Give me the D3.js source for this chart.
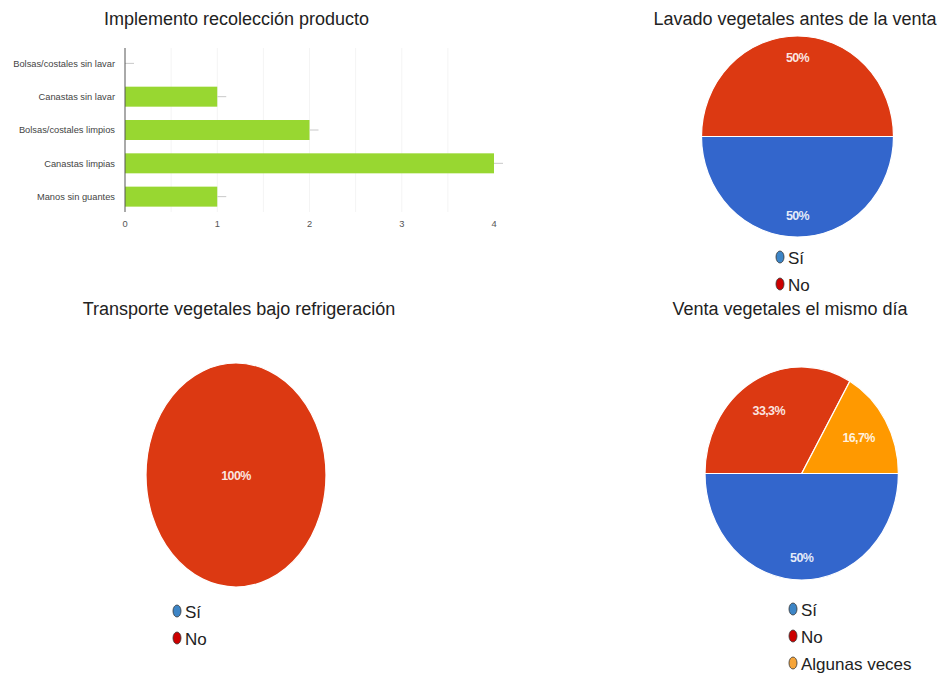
<!DOCTYPE html>
<html>
<head>
<meta charset="utf-8">
<script src="https://cdn.jsdelivr.net/npm/d3@7"></script>
<style>
  body { margin: 0; background: #fff; }
  text { font-family: "Liberation Sans", Arial, sans-serif; }
</style>
</head>
<body>
<div id="chart"></div>
<script>
// Bar chart data
const barCategories = ["Bolsas/costales sin lavar", "Canastas sin lavar", "Bolsas/costales limpios", "Canastas limpias", "Manos sin guantes"];
const barValues = [0, 1, 2, 4, 1];
const barTicks = [0, 1, 2, 3, 4];

// Pie chart data
const lavadoLabels = ["Sí", "No"];
const lavadoValues = [50, 50];
const transporteLabels = ["Sí", "No"];
const transporteValues = [0, 100];
const ventaLabels = ["Sí", "No", "Algunas veces"];
const ventaValues = [50, 33.3, 16.7];

const pieColors = ["#3366cc", "#dc3912", "#ff9900"];
const markerColors = ["#3d85c6", "#cc0000", "#f6a53a"];

const width = 943, height = 673;
const svg = d3.select("#chart").append("svg")
    .attr("width", width)
    .attr("height", height);

// ---- Bar chart ----
const x = d3.scaleLinear().domain([0, 4]).range([125, 494]);
const y = d3.scaleBand().domain(barCategories).range([46.7, 213.3]).paddingInner(0.4).paddingOuter(0.2);

svg.append("text")
    .attr("x", 236.5).attr("y", 25)
    .attr("text-anchor", "middle")
    .attr("font-size", 18).attr("fill", "#222")
    .text("Implemento recolección producto");

// faint gridlines every half unit
svg.append("g").selectAll("line")
    .data(d3.range(0.5, 4, 0.5))
    .enter().append("line")
    .attr("x1", d => x(d)).attr("x2", d => x(d))
    .attr("y1", 48).attr("y2", 212)
    .attr("stroke", "#f4f4f4").attr("stroke-width", 1);

svg.append("g").selectAll("rect")
    .data(barValues)
    .enter().append("rect")
    .attr("x", x(0))
    .attr("y", (d, i) => y(barCategories[i]))
    .attr("width", d => x(d) - x(0))
    .attr("height", y.bandwidth())
    .attr("fill", "#98d731");

// small whiskers at bar ends
svg.append("g").selectAll("line")
    .data(barValues)
    .enter().append("line")
    .attr("x1", d => x(d)).attr("x2", d => x(d) + 9)
    .attr("y1", (d, i) => y(barCategories[i]) + y.bandwidth() / 2)
    .attr("y2", (d, i) => y(barCategories[i]) + y.bandwidth() / 2)
    .attr("stroke", "#c8c8c8").attr("stroke-width", 1);

svg.append("line")
    .attr("x1", x(0)).attr("x2", x(0))
    .attr("y1", 48).attr("y2", 212)
    .attr("stroke", "#555").attr("stroke-width", 1);

svg.append("g").selectAll("text")
    .data(barCategories)
    .enter().append("text")
    .attr("x", 115)
    .attr("y", d => y(d) + y.bandwidth() / 2 + 3.3)
    .attr("text-anchor", "end")
    .attr("font-size", 9.3).attr("fill", "#444")
    .text(d => d);

svg.append("g").selectAll("text")
    .data(barTicks)
    .enter().append("text")
    .attr("x", d => x(d))
    .attr("y", 227)
    .attr("text-anchor", "middle")
    .attr("font-size", 9.3).attr("fill", "#555")
    .text(d => d);

// ---- Pie charts ----
function drawPie(opts) {
    const { title, titleX, titleY, cx, cy, rx, ry, labels, values, legendX, legendY } = opts;
    svg.append("text")
        .attr("x", titleX).attr("y", titleY)
        .attr("text-anchor", "middle")
        .attr("font-size", 18).attr("fill", "#222")
        .text(title);

    const total = d3.sum(values);
    const pie = d3.pie().sort(null)
        .startAngle(Math.PI / 2).endAngle(Math.PI / 2 + 2 * Math.PI);
    const arcs = pie(values);
    const arc = d3.arc().innerRadius(0).outerRadius(1);

    // unit circle scaled to the stretched ellipse
    const g = svg.append("g")
        .attr("transform", `translate(${cx},${cy}) scale(${rx},${ry})`);
    g.selectAll("path")
        .data(arcs.filter(d => d.value > 0))
        .enter().append("path")
        .attr("d", arc)
        .attr("fill", d => pieColors[d.index])
        .attr("stroke", "#fff").attr("stroke-width", 1.2)
        .attr("vector-effect", "non-scaling-stroke");

    arcs.filter(d => d.value > 0).forEach(d => {
        const share = d.value / total;
        let px = 0, py = 0;
        if (share < 1) {
            const a = (d.startAngle + d.endAngle) / 2;
            const r = share >= 0.5 ? 0.79 : 0.68;
            px = Math.sin(a) * r * rx;
            py = -Math.cos(a) * r * ry;
        }
        const txt = share === 1 ? "100%" : (Math.round(share * 1000) / 10).toString().replace(".", ",") + "%";
        svg.append("text")
            .attr("x", cx + px).attr("y", cy + py + 4.5)
            .attr("text-anchor", "middle")
            .attr("font-size", 12.5).attr("font-weight", "bold")
            .attr("fill", "#fff").attr("fill-opacity", 0.88)
            .attr("letter-spacing", -0.6)
            .text(txt);
    });

    const leg = svg.append("g").selectAll("g")
        .data(labels)
        .enter().append("g")
        .attr("transform", (d, i) => `translate(${legendX},${legendY + i * 27})`);
    leg.append("ellipse")
        .attr("cx", 0).attr("cy", 0)
        .attr("rx", 4).attr("ry", 6)
        .attr("fill", (d, i) => markerColors[i])
        .attr("stroke", "#333").attr("stroke-width", 0.8);
    leg.append("text")
        .attr("x", 8).attr("y", 7)
        .attr("font-size", 17).attr("fill", "#222")
        .text(d => d);
}

drawPie({
    title: "Lavado vegetales antes de la venta", titleX: 795, titleY: 25,
    cx: 797.5, cy: 136.5, rx: 96, ry: 100.5,
    labels: lavadoLabels, values: lavadoValues,
    legendX: 780, legendY: 257
});

drawPie({
    title: "Transporte vegetales bajo refrigeración", titleX: 239, titleY: 315,
    cx: 236, cy: 475, rx: 90, ry: 112,
    labels: transporteLabels, values: transporteValues,
    legendX: 177, legendY: 611
});

drawPie({
    title: "Venta vegetales el mismo día", titleX: 790, titleY: 315,
    cx: 801.7, cy: 473.5, rx: 96.7, ry: 106.5,
    labels: ventaLabels, values: ventaValues,
    legendX: 793, legendY: 609
});
</script>
</body>
</html>
